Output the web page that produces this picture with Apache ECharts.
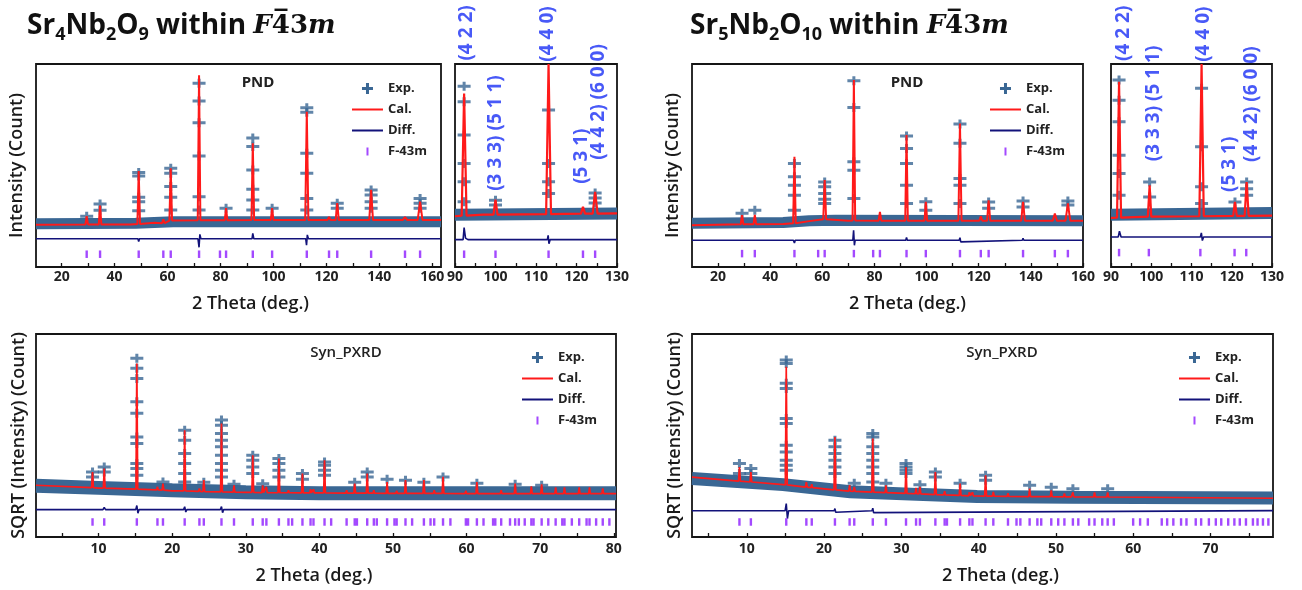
<!DOCTYPE html>
<html><head><meta charset="utf-8">
<script src="https://cdn.jsdelivr.net/npm/echarts@6/dist/echarts.min.js"></script>
<style>html,body{margin:0;padding:0;background:#fff}#c{width:1302px;height:590px}</style>
</head><body><div id="c"></div>
<script>
// ---------- tick labels ----------
const pndMainLabels = [20, 40, 60, 80, 100, 120, 140, 160];
const pndMainTicks = [20, 30, 40, 50, 60, 70, 80, 90, 100, 110, 120, 130, 140, 150, 160];
const insetLabels = [90, 100, 110, 120, 130];
const insetTicks = [90, 95, 100, 105, 110, 115, 120, 125, 130];
const xrdALabels = [10, 20, 30, 40, 50, 60, 70, 80];
const xrdATicks = [5, 10, 15, 20, 25, 30, 35, 40, 45, 50, 55, 60, 65, 70, 75, 80];
const xrdBLabels = [10, 20, 30, 40, 50, 60, 70];
const xrdBTicks = [5, 10, 15, 20, 25, 30, 35, 40, 45, 50, 55, 60, 65, 70, 75];

// ---------- Sr4Nb2O9 PND (top-left) ----------  y in % of plot height
const pndA_band = [[10.3,21.3],[48,21.5],[62,22.3],[163.3,22.3]];
const pndA_calBg = [[10.3,20.8],[46,20.9],[55,21.8],[62,22.9],[163.3,23.2]];
// [2theta, base, top, half-width]
const pndA_peaks = [[29.45,20.9,25.1,0.5],[34.5,20.9,30.2,0.5],[49.1,21.2,47.3,0.5],[58.4,21.6,23.5,0.5],[61.2,22.9,48.6,0.5],[71.9,23,94.4,0.5],[82.1,23,29,0.5],[92.2,23.1,61,0.5],[99.5,23.1,29,0.5],[112.6,23.1,76.5,0.6],[121,23.1,24.6,0.6],[124.1,23.1,31.5,0.6],[136.9,23.2,38,0.7],[149.7,23.2,24.6,0.8],[155.4,23.2,32.2,0.9]];
const pndA_exp = [[29.45,25],[34.5,31],[34.5,28],[49.1,46.6],[49.1,44.8],[49.1,34.3],[49.1,32.2],[49.1,27.7],[61.2,48.6],[61.2,46.2],[61.2,39.6],[61.2,34.3],[61.2,28.1],[71.9,90.5],[71.9,81.8],[71.9,71.1],[71.9,54.7],[71.9,34.6],[71.9,28.1],[82.1,28.9],[92.2,63.5],[92.2,59.3],[92.2,47.8],[92.2,38.3],[92.2,33],[92.2,28.1],[99.5,28.9],[112.6,78.5],[112.6,76.2],[112.6,56],[112.6,46.2],[112.6,33.8],[112.6,28.1],[124.1,31.4],[124.1,28.9],[136.9,37.9],[136.9,35.5],[136.9,32.2],[136.9,28.9],[155.4,33.8],[155.4,31.4],[155.4,28.9]];
const pndA_diff = [[10.3,13.9],[34.2,13.9],[34.5,14.8],[34.8,13.9],[48.8,13.9],[49.1,12.6],[49.4,13.9],[71.5,13.9],[71.9,9.7],[72.2,16.1],[72.6,13.9],[91.9,13.9],[92.2,16.6],[92.6,13.9],[112.2,13.9],[112.5,10.8],[112.8,15.8],[113.2,13.9],[163.3,13.9]];
const pndA_bragg = [29.45,34.5,49.1,58.4,61.2,71.9,79.8,82.1,92.2,99.5,112.6,121,124.1,136.9,149.7,155.4];

// ---------- Sr4Nb2O9 PND inset ----------
const pndAIn_band = [[90,25.8],[130,26.3]];
const pndAIn_calBg = [[90,25],[97,25.8],[130,26.4]];
const pndAIn_peaks = [[92.25,25.3,85.5,0.6],[100,25.8,33.2,0.5],[113.1,26,100,0.6],[121.6,26.3,29.6,0.5],[124.6,26.3,37,0.6]];
const pndAIn_exp = [[92.25,89.1],[92.25,81.4],[92.25,65],[92.25,51],[92.25,42],[92.25,32.1],[100,32.9],[100,30.5],[113.1,77.3],[113.1,51],[113.1,42],[113.1,36.2],[124.6,36.5],[124.6,34],[124.6,31.5]];
const pndAIn_diff = [[90,13.5],[92,13.5],[92.25,19.4],[92.6,14.2],[93.2,13.5],[112.8,13.5],[113,15.6],[113.2,11.5],[113.5,13.5],[130,13.5]];
const pndAIn_bragg = [92.25,100,113.1,121.6,124.6];
const pndAIn_hkl = [[92.75,115.3,'(4 2 2)'],[100,66,'(3 3 3) (5 1 1)'],[112.9,114.8,'(4 4 0)'],[121.25,54.6,'(5 3 1)'],[125.4,81.3,'(4 4 2) (6 0 0)']];

// ---------- Sr5Nb2O10 PND (top-right) ----------
const pndB_band = [[10,21.6],[45,21.9],[55,22.8],[65,23],[160,22.8]];
const pndB_calBg = [[10,20.6],[45,21.2],[55,22.6],[62,23.6],[70,22.8],[160,22.8]];
const pndB_peaks = [[29.2,21,25.5,0.5],[34.1,21.1,25.7,0.5],[49.3,21.6,54.3,0.5],[60.9,23.5,42.8,0.55],[72.1,22.9,92.1,0.5],[82.1,22.8,27.1,0.5],[92.3,22.8,65,0.5],[99.7,22.8,32.1,0.5],[112.8,22.8,70.7,0.6],[120.8,22.8,25,0.6],[123.8,22.8,32.9,0.6],[137,22.8,32.1,0.7],[149.2,22.8,26.3,0.8],[154.2,22.8,31.3,0.9]];
const pndB_exp = [[29.2,26.5],[34.1,28],[49.3,51],[49.3,44.4],[49.3,40.3],[49.3,35.4],[49.3,28],[60.9,41.9],[60.9,39.5],[60.9,36.2],[60.9,33.4],[60.9,31.3],[72.1,91.8],[72.1,78.6],[72.1,51.8],[72.1,47.7],[72.1,33.7],[92.3,64.5],[92.3,58.4],[92.3,51],[92.3,40.3],[92.3,31.3],[99.7,32.1],[99.7,28],[112.8,70.4],[112.8,60.9],[112.8,43.6],[112.8,40.3],[112.8,31.3],[123.8,32],[123.8,29],[137,32.5],[137,29.6],[154.2,32.5],[154.2,30.5]];
const pndB_diff = [[10,13.2],[48.9,13.2],[49.3,11.8],[49.6,13.2],[71.7,13.2],[72,18.1],[72.3,10.7],[72.6,13.2],[92,13.2],[92.3,14.6],[92.6,13.2],[112.5,13.2],[112.8,14.4],[113.1,12.4],[113.4,13.2],[136.7,13.2],[137,14.2],[137.3,13.2],[160,13.2]];
const pndB_bragg = [29.2,34.1,49.3,58.4,60.9,72.1,79.5,82.1,92.3,99.7,112.8,120.8,123.8,137.0,149.2,154.2];

// ---------- Sr5Nb2O10 PND inset ----------
const pndBIn_band = [[90,25.8],[130,26.6]];
const pndBIn_calBg = [[90,24.2],[100,24.8],[130,25.3]];
const pndBIn_peaks = [[92.0,24.3,91.3,0.5],[99.6,24.8,40.3,0.45],[112.5,25,100,0.55],[120.8,25.2,32.1,0.45],[123.7,25.2,41.9,0.5]];
const pndBIn_exp = [[92,92.1],[92,82.2],[92,71.5],[92,55.1],[92,46.1],[92,35.4],[99.6,41.9],[99.6,34.5],[112.5,88],[112.5,59.2],[112.5,39.5],[112.5,31.3],[120.8,32],[123.7,41.9],[123.7,38.6],[123.7,35.4]];
const pndBIn_diff = [[90,14.8],[91.8,14.8],[92.1,17.6],[92.5,14.8],[112.2,14.8],[112.45,16.8],[112.7,13],[113,14.8],[130,14.8]];
const pndBIn_bragg = [92.0,99.4,112.2,120.7,123.6];
const pndBIn_hkl = [[93.05,115.1,'(4 2 2)'],[100.5,80.6,'(3 3 3) (5 1 1)'],[113.1,114.7,'(4 4 0)'],[119.5,50.6,'(5 3 1)'],[124.9,80.2,'(4 4 2) (6 0 0)']];

// ---------- Sr4Nb2O9 Syn_PXRD (bottom-left) ----------
const xrdA_band = [[1.5,25.2],[10,24.2],[20,23],[30,22],[40,21.5],[80.3,21.5]];
const xrdA_calBg = [[1.5,25.5],[10,24.1],[20,22.7],[30,22],[40,21.7],[60,21.4],[80.3,21.4]];
const xrdA_peaks = [[9.18,24.3,32,0.12],[10.77,24.1,33.7,0.12],[15.2,23.6,85.5,0.12],[18.0,23.2,24.7,0.12],[18.75,23.1,26.3,0.12],[21.7,22.7,52.6,0.12],[23.7,22.5,23.9,0.12],[24.3,22.4,28,0.12],[26.7,22.2,55.9,0.12],[28.4,22.1,25.5,0.12],[30.95,22,40.3,0.12],[32.3,21.9,25.5,0.12],[32.8,21.9,24.7,0.12],[34.5,21.8,38.7,0.12],[35.8,21.8,23,0.12],[37.7,21.7,31.3,0.12],[38.8,21.7,23.5,0.12],[39.2,21.7,23.5,0.12],[40.7,21.7,37.8,0.12],[43.7,21.6,23,0.12],[44.8,21.6,26.3,0.12],[46.5,21.6,31.3,0.12],[47.4,21.6,23,0.12],[49.2,21.5,27.1,0.12],[50.5,21.5,22.8,0.12],[51.7,21.5,28,0.12],[54.2,21.5,28,0.12],[55.6,21.5,23,0.12],[56.8,21.5,29.6,0.12],[59.9,21.4,22.8,0.12],[61.4,21.4,27.1,0.12],[64.7,21.4,23,0.12],[66.6,21.4,26.3,0.12],[68.8,21.4,25,0.12],[70.2,21.4,26,0.12],[72.1,21.4,24.5,0.12],[73.3,21.4,24.5,0.12],[75.3,21.4,24.5,0.12],[76.7,21.4,24.5,0.12],[78.5,21.4,24,0.12]];
const xrdA_exp = [[9.18,32],[9.18,29.5],[10.77,34.5],[10.77,32],[15.2,88],[15.2,83.1],[15.2,78.1],[15.2,66.6],[15.2,60.9],[15.2,49.3],[15.2,46.1],[15.2,36.2],[15.2,33.7],[15.2,30.4],[18.75,27.1],[21.7,52.6],[21.7,47.7],[21.7,41.1],[21.7,36.2],[21.7,31.3],[21.7,27.1],[24.3,27],[26.7,57.6],[26.7,55.1],[26.7,51],[26.7,47.7],[26.7,44.4],[26.7,40.3],[26.7,36.2],[26.7,32.9],[26.7,29.6],[28.4,26],[30.95,40.3],[30.95,37.8],[30.95,34.5],[30.95,31.3],[32.3,26.2],[34.5,38.7],[34.5,36.2],[34.5,32.9],[34.5,29.6],[37.7,31.3],[37.7,28.5],[40.7,37],[40.7,35.4],[40.7,32.9],[40.7,30.4],[44.8,27],[46.5,32],[46.5,29.6],[49.2,28.5],[51.7,28],[54.2,27],[56.8,29.6],[61.4,26.5],[66.6,26],[70.2,25.5]];
const xrdA_diff = [[1.5,13.5],[10.6,13.5],[10.77,14.6],[10.95,13.5],[15.05,13.5],[15.2,15.5],[15.35,11.7],[15.5,13.5],[21.55,13.5],[21.7,14.9],[21.85,12.3],[22,13.5],[26.55,13.5],[26.7,15],[26.85,12],[27,13.5],[80.3,13.5]];
const xrdA_bragg = [9.18,10.77,15.2,18.0,18.75,21.7,23.7,24.3,26.7,28.4,30.95,32.3,32.8,34.5,35.8,36.3,37.7,38.8,39.2,40.7,41.6,43.7,44.8,45.1,46.5,47.4,47.8,49.2,50.2,50.5,51.7,52.6,54.2,55.1,55.6,56.8,57.8,59.9,60.2,61.4,62.3,63.6,63.9,64.7,65.9,66.6,67.1,67.9,68.8,69.1,70.2,71.1,72.1,73.0,73.3,74.3,75.3,76.3,76.7,77.6,78.5,79.4];

// ---------- Sr5Nb2O10 Syn_PXRD (bottom-right) ----------
const xrdB_band = [[2.9,28.8],[14.7,25.8],[23.4,22.3],[32,21],[39.8,20],[52,19.6],[78.1,19.2]];
const xrdB_calBg = [[2.9,29.5],[14.7,25.8],[23.4,22.6],[32,21.3],[39.8,20.2],[52,19.8],[78.1,19.1]];
const xrdB_peaks = [[9.04,27.5,34.5,0.12],[10.52,27.1,32,0.12],[15.1,25.7,83.9,0.12],[17.7,24.6,27,0.12],[18.4,24.3,26,0.12],[21.4,23.2,49.3,0.12],[23.3,22.6,25.5,0.12],[23.9,22.5,24.7,0.12],[26.3,22.1,48.5,0.12],[28.0,21.9,25.5,0.12],[30.6,21.5,34.5,0.12],[31.9,21.3,24.2,0.12],[32.4,21.2,24.7,0.12],[34.4,20.9,32,0.12],[35.6,20.8,22.5,0.12],[37.6,20.5,26.3,0.12],[38.8,20.3,22,0.12],[39.2,20.3,22,0.12],[40.9,20.1,30.4,0.12],[41.9,20.1,22.2,0.12],[43.8,20,21.5,0.12],[46.6,19.9,23.9,0.12],[49.4,19.9,23,0.12],[51.1,19.8,21.5,0.12],[52.2,19.8,22,0.12],[55,19.7,22,0.12],[56.7,19.7,22,0.12]];
const xrdB_exp = [[9.04,36.2],[9.04,31.3],[10.52,33.7],[10.52,31.3],[15.1,87.2],[15.1,85.5],[15.1,75.7],[15.1,73.2],[15.1,58.4],[15.1,55.9],[15.1,45.2],[15.1,41.9],[15.1,37.8],[15.1,35.4],[15.1,32.9],[21.4,47.7],[21.4,44.4],[21.4,41.1],[21.4,37.8],[21.4,34.5],[21.4,31.3],[23.9,26.5],[26.3,51],[26.3,49.3],[26.3,44.4],[26.3,41.1],[26.3,37.8],[26.3,34.5],[26.3,31.3],[26.3,27.1],[28.0,26.5],[30.6,36.2],[30.6,34.5],[30.6,32.9],[30.6,31.3],[32.4,25.8],[34.4,32],[34.4,29.6],[37.6,26.5],[40.9,30.4],[40.9,28],[46.6,25.5],[49.4,24.5],[52.2,23.8],[56.7,23.8]];
const xrdB_diff = [[2.9,12.9],[14.95,12.9],[15.1,16.5],[15.25,9.1],[15.4,12.9],[21.3,12.9],[21.4,14],[21.5,12.2],[21.6,12.9],[26.2,12.9],[26.3,14.2],[26.4,12],[26.5,12.9],[78.1,13]];
const xrdB_bragg = [9.04,10.52,15.1,17.7,18.4,21.4,23.3,23.9,26.3,28.0,30.6,31.9,32.4,34.4,35.6,35.9,37.6,38.8,39.2,40.9,41.9,43.8,44.9,45.4,46.6,47.6,48.1,49.4,50.3,51.1,52.2,52.9,54.3,55.0,56.0,56.7,57.5,60.0,60.9,61.9,63.7,64.4,65.2,66.2,66.9,68.1,68.8,69.8,70.7,71.4,72.3,73.1,73.8,74.6,75.5,76.1,76.8,77.5];

// ---------- styling ----------
const BLUE = '#3a6794', RED = '#ff1a1a', NAVY = '#12127a', PURPLE = '#8c1cff', HKL = '#1a30f5', INK = '#151515';
const FONT = "'Open Sans','Liberation Sans',sans-serif";
const CROSS = 'path://M0,3H13V6H0Z M5,0H8V9H5Z';
const PLUS_ICON = 'path://M0,0h0.01v0.01z M12,12h0.01v0.01z M0.5,4.5H11.5V7.5H0.5Z M4.5,0.5H7.5V11.5H4.5Z';
const TICK_ICON = 'path://M0,0h0.01v0.01z M12,12h0.01v0.01z M5,2H7V10H5Z';
const LINE_ICON = 'path://M0,0h0.01v0.01z M31,12h0.01v0.01z M0,5.1H31V6.9H0Z';

function calCurve(bg, peaks) {
  const pts = bg.map(p => [p[0], p[1]]);
  peaks.forEach(([x, b, t, w]) => { pts.push([x - w, b], [x, t], [x + w, b]); });
  pts.sort((a, b) => a[0] - b[0]);
  return pts;
}

const panels = [
  {box:[36,64,405,203], min:10.3, max:163.3, labels:pndMainLabels, ticks:pndMainTicks, lm:3,
   band:pndA_band, bandW:11, bg:pndA_calBg, peaks:pndA_peaks, exp:pndA_exp, diff:pndA_diff, bragg:pndA_bragg, braggY:6.3, calW:2,
   yName:'Intensity (Count)', yGap:10, xName:'2 Theta (deg.)', xGap:28, xShift:12},
  {box:[455,64,162,203], min:90, max:130, labels:insetLabels, ticks:insetTicks, lm:3,
   band:pndAIn_band, bandW:12, bg:pndAIn_calBg, peaks:pndAIn_peaks, exp:pndAIn_exp, diff:pndAIn_diff, bragg:pndAIn_bragg, braggY:6.3, calW:2.2, hkl:pndAIn_hkl},
  {box:[692,64,391,203], min:10, max:160, labels:pndMainLabels, ticks:pndMainTicks, lm:3,
   band:pndB_band, bandW:11, bg:pndB_calBg, peaks:pndB_peaks, exp:pndB_exp, diff:pndB_diff, bragg:pndB_bragg, braggY:6.6, calW:2,
   yName:'Intensity (Count)', yGap:10, xName:'2 Theta (deg.)', xGap:28, xShift:20},
  {box:[1111,64,161,203], min:90, max:130, labels:insetLabels, ticks:insetTicks, lm:3,
   band:pndBIn_band, bandW:12, bg:pndBIn_calBg, peaks:pndBIn_peaks, exp:pndBIn_exp, diff:pndBIn_diff, bragg:pndBIn_bragg, braggY:7.1, calW:2.2, hkl:pndBIn_hkl},
  {box:[36,334,580,203], min:1.5, max:80.3, labels:xrdALabels, ticks:xrdATicks, lm:5,
   band:xrdA_band, bandW:14, bg:xrdA_calBg, peaks:xrdA_peaks, exp:xrdA_exp, diff:xrdA_diff, bragg:xrdA_bragg, braggY:7.4, calW:1.7,
   yName:'SQRT (Intensity) (Count)', yGap:8, xName:'2 Theta (deg.)', xGap:30, xShift:-12},
  {box:[692,334,581,203], min:2.9, max:78.1, labels:xrdBLabels, ticks:xrdBTicks, lm:5,
   band:xrdB_band, bandW:13, bg:xrdB_calBg, peaks:xrdB_peaks, exp:xrdB_exp, diff:xrdB_diff, bragg:xrdB_bragg, braggY:7.4, calW:1.7,
   yName:'SQRT (Intensity) (Count)', yGap:8, xName:'2 Theta (deg.)', xGap:30, xShift:18}
];

const nameStyle = {fontSize:18, fontWeight:600, color:'#1a1a1a', fontFamily:FONT};
const grid = [], xAxis = [], yAxis = [], series = [];
panels.forEach((p, i) => {
  grid.push({left:p.box[0], top:p.box[1], width:p.box[2], height:p.box[3], show:true, borderColor:INK, borderWidth:1.8});
  const sh = p.xShift || 0;
  xAxis.push({gridIndex:i, type:'value', min:p.min, max:p.max,
    axisLine:{show:false}, splitLine:{show:false},
    axisTick:{show:true, inside:true, length:4, customValues:p.ticks, lineStyle:{color:INK, width:1.3}},
    axisLabel:{show:true, customValues:p.labels, margin:p.lm, fontSize:14, fontWeight:'bold', color:'#222', fontFamily:FONT},
    name:p.xName || '', nameLocation:'middle', nameGap:p.xGap || 0,
    nameTextStyle:Object.assign({}, nameStyle, {padding: sh >= 0 ? [0,0,0,2*sh] : [0,-2*sh,0,0]})});
  yAxis.push({gridIndex:i, type:'value', min:0, max:100,
    axisLine:{show:false}, axisTick:{show:false}, axisLabel:{show:false}, splitLine:{show:false},
    name:p.yName || '', nameLocation:'middle', nameGap:p.yGap || 0, nameTextStyle:nameStyle});
  const ax = {xAxisIndex:i, yAxisIndex:i, silent:true, animation:false};
  series.push(Object.assign({type:'line', name:'Exp.', data:p.band, symbol:'none', color:BLUE,
    lineStyle:{color:BLUE, width:p.bandW}, z:1}, ax));
  series.push(Object.assign({type:'scatter', name:'Exp.', data:p.exp, symbol:CROSS, symbolSize:[13,9],
    color:BLUE, itemStyle:{color:BLUE}, z:2}, ax));
  series.push(Object.assign({type:'line', name:'Cal.', data:calCurve(p.bg, p.peaks), symbol:'none', color:RED,
    lineStyle:{color:RED, width:p.calW}, z:3}, ax));
  series.push(Object.assign({type:'line', name:'Diff.', data:p.diff, symbol:'none', color:NAVY,
    lineStyle:{color:NAVY, width:1.6}, z:4}, ax));
  series.push(Object.assign({type:'scatter', name:'F-43m', data:p.bragg.map(x => [x, p.braggY]), symbol:'rect',
    symbolSize:[2.4,7.5], color:PURPLE, itemStyle:{color:PURPLE}, z:5}, ax));
  if (p.hkl) {
    series.push(Object.assign({type:'scatter', name:'hkl', clip:false,
      data:p.hkl.map(h => ({value:[h[0], h[1]], name:h[2]})), symbolSize:0.1,
      itemStyle:{color:'rgba(0,0,0,0)'},
      label:{show:true, formatter:'{b}', rotate:90, position:'inside', fontSize:19, fontWeight:'bold', color:HKL,
             fontFamily:FONT}, z:6}, ax));
  }
});

function legendAt(left, top) {
  return {orient:'vertical', left:left, top:top, padding:0, itemWidth:31, itemHeight:12, itemGap:8, selectedMode:false,
    textStyle:{fontSize:13, fontWeight:'bold', color:'#222', fontFamily:FONT},
    data:[{name:'Exp.', icon:PLUS_ICON, itemStyle:{color:BLUE}},
          {name:'Cal.', icon:LINE_ICON, itemStyle:{color:RED}},
          {name:'Diff.', icon:LINE_ICON, itemStyle:{color:NAVY}},
          {name:'F-43m', icon:TICK_ICON, itemStyle:{color:PURPLE}}]};
}

const SERIF = "'DejaVu Serif',serif";
const RICH = {
  a:{fontFamily:FONT, fontSize:28, fontWeight:'bold', color:'#111', lineHeight:36},
  s:{fontFamily:FONT, fontSize:18, fontWeight:'bold', color:'#111', lineHeight:18, verticalAlign:'bottom'},
  f:{fontFamily:SERIF, fontStyle:'italic', fontSize:26, color:'#111', lineHeight:36},
  d:{fontFamily:SERIF, fontSize:26, color:'#111', lineHeight:36},
  ov:{fontFamily:SERIF, fontSize:26, color:'#111', lineHeight:25, verticalAlign:'top', width:0}
};
// overline (zero-width token) drawn over the "4"
const SPACE_GROUP = '{f|F}{ov|\u200A\u203E}{d|4}{d|3}{f|m}';

const chart = echarts.init(document.getElementById('c'), null, {renderer:'canvas'});
chart.setOption({
  backgroundColor:'#fff',
  animation:false,
  title:[
    {left:27, top:8, padding:0, text:'{a|Sr}{s|4}{a|Nb}{s|2}{a|O}{s|9}{a| within }' + SPACE_GROUP, textStyle:{rich:RICH}},
    {left:690, top:8, padding:0, text:'{a|Sr}{s|5}{a|Nb}{s|2}{a|O}{s|10}{a| within }' + SPACE_GROUP, textStyle:{rich:RICH}}
  ],
  legend:[legendAt(352,82), legendAt(990,82), legendAt(522,351), legendAt(1179,351)],
  grid:grid, xAxis:xAxis, yAxis:yAxis, series:series,
  graphic:[
    {type:'text', x:258, y:83, style:{text:'PND', align:'center', verticalAlign:'middle', font:"bold 15px 'Open Sans'", fill:'#222'}},
    {type:'text', x:907, y:83, style:{text:'PND', align:'center', verticalAlign:'middle', font:"bold 15px 'Open Sans'", fill:'#222'}},
    {type:'text', x:346, y:353, style:{text:'Syn_PXRD', align:'center', verticalAlign:'middle', font:"600 15px 'Open Sans'", fill:'#222'}},
    {type:'text', x:1002, y:353, style:{text:'Syn_PXRD', align:'center', verticalAlign:'middle', font:"600 15px 'Open Sans'", fill:'#222'}}
  ]
});
</script></body></html>
